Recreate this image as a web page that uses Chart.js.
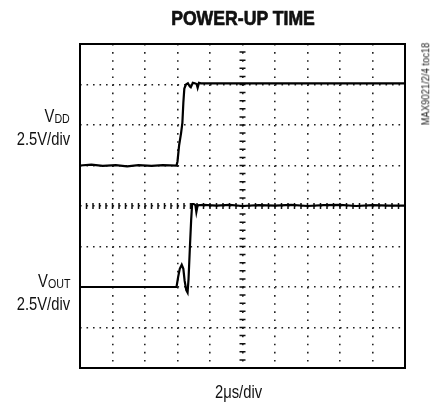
<!DOCTYPE html>
<html>
<head>
<meta charset="utf-8">
<script src="https://cdn.jsdelivr.net/npm/chart.js@4.4.0/dist/chart.umd.min.js"></script>
<style>
  body { margin: 0; background: #fff; }
  #wrap { position: relative; width: 431px; height: 406px; font-family: "Liberation Sans", Arial, sans-serif; color: #111; }
  #wrap div { position: absolute; white-space: nowrap; line-height: 1; }
  .lbl { font-size: 18px; right: 361px; transform: scaleX(0.82); transform-origin: right center; }
  .sub { font-size: 13px; position: relative; top: 1px; }
</style>
</head>
<body>
<div id="wrap">
  <canvas id="myChart" width="431" height="406"></canvas>
  <div style="left:243px;top:7px;font-size:21px;font-weight:bold;-webkit-text-stroke:0.7px #111;transform:translateX(-50%) scaleX(0.84);">POWER-UP TIME</div>
  <div class="lbl" style="top:107px;">V<span class="sub">DD</span></div>
  <div class="lbl" style="top:130px;">2.5V/div</div>
  <div class="lbl" style="top:272px;">V<span class="sub">OUT</span></div>
  <div class="lbl" style="top:295px;">2.5V/div</div>
  <div style="left:215px;top:383px;font-size:18px;transform:scaleX(0.82);transform-origin:left center;">2μs/div</div>
  <div style="left:426px;top:84px;font-size:11.5px;color:#222;transform:translate(-50%,-50%) rotate(-90deg) scaleX(0.82);">MAX9021/2/4 toc18</div>
</div>
<script>
// time axis in divisions (2us/div), voltage in divisions (2.5V/div)
var vddX = [0, 0.35, 0.7, 1.1, 1.45, 1.8, 2.2, 2.55, 2.97, 3.0, 3.05, 3.11, 3.15, 3.18, 3.21, 3.26, 3.32, 3.38, 3.41, 3.47, 3.53, 3.59, 3.62, 3.66, 3.72, 5, 7.5, 10];
var vddY = [5.0, 5.02, 4.99, 5.01, 4.98, 5.01, 4.99, 5.01, 5.0, 5.1, 5.5, 5.8, 6.05, 6.55, 6.9, 7.0, 7.03, 6.95, 6.93, 7.04, 7.03, 7.01, 6.92, 7.04, 7.03, 7.03, 7.03, 7.03];

var voutX = [0, 1, 2, 2.97, 3.02, 3.07, 3.13, 3.18, 3.22, 3.27, 3.31, 3.34, 3.38, 3.42, 3.45, 3.5, 3.55, 3.58, 3.62, 3.8, 4.2, 4.6, 5.0, 5.5, 6.0, 6.5, 7.0, 7.5, 8.0, 8.5, 9.0, 9.5, 10];
var voutY = [2.0, 2.0, 2.0, 2.0, 2.25, 2.45, 2.55, 2.45, 2.15, 1.92, 1.86, 2.2, 2.95, 3.65, 4.05, 4.05, 4.02, 3.85, 4.02, 4.03, 4.01, 4.03, 4.0, 4.02, 4.01, 4.03, 4.0, 4.02, 4.03, 4.0, 4.02, 4.01, 4.01];

var xDivs = 10;
var yDivs = 8;

function toPoints(xs, ys) {
  return xs.map(function (x, i) { return { x: x, y: ys[i] }; });
}

// scope graticule: frame + small ticks on the centre lines
var graticule = {
  id: "graticule",
  beforeDatasetsDraw: function (chart) {
    var ctx = chart.ctx;
    var xs = chart.scales.x, ys = chart.scales.y;
    var cx = xs.getPixelForValue(xDivs / 2), cy = ys.getPixelForValue(yDivs / 2);
    ctx.save();
    ctx.strokeStyle = "#111";
    ctx.lineWidth = 1.5;
    ctx.beginPath();
    for (var i = 0; i <= xDivs * 5; i++) {
      var px = xs.getPixelForValue(i / 5);
      ctx.moveTo(px, cy - 3);
      ctx.lineTo(px, cy + 3);
    }
    for (var j = 0; j <= yDivs * 5; j++) {
      var py = ys.getPixelForValue(j / 5);
      ctx.moveTo(cx - 3, py);
      ctx.lineTo(cx + 3, py);
    }
    ctx.stroke();
    ctx.restore();
  },
  afterDraw: function (chart) {
    var a = chart.chartArea, ctx = chart.ctx;
    ctx.save();
    ctx.strokeStyle = "#000";
    ctx.lineWidth = 2;
    ctx.strokeRect(a.left, a.top, a.right - a.left, a.bottom - a.top);
    ctx.restore();
  }
};

var ctx = document.getElementById("myChart").getContext("2d");
var chart = new Chart(ctx, {
  type: "scatter",
  data: {
    datasets: [
      { label: "VDD", data: toPoints(vddX, vddY) },
      { label: "VOUT", data: toPoints(voutX, voutY) }
    ]
  },
  options: {
    responsive: false,
    animation: false,
    layout: { padding: { left: 80, right: 26, top: 44, bottom: 38 } },
    elements: {
      line: { borderColor: "#000", borderWidth: 2.2, tension: 0 },
      point: { radius: 0 }
    },
    datasets: { scatter: { showLine: true } },
    plugins: { legend: { display: false }, tooltip: { enabled: false } },
    scales: {
      x: {
        type: "linear", min: 0, max: xDivs,
        ticks: { display: false, stepSize: 1 },
        grid: { color: "#222", lineWidth: 1.6, drawTicks: false },
        border: { display: false, dash: [1.6, 6.5] }
      },
      y: {
        type: "linear", min: 0, max: yDivs,
        ticks: { display: false, stepSize: 1 },
        grid: { color: "#222", lineWidth: 1.6, drawTicks: false },
        border: { display: false, dash: [1.6, 4.9] }
      }
    }
  },
  plugins: [graticule]
});
</script>
</body>
</html>
